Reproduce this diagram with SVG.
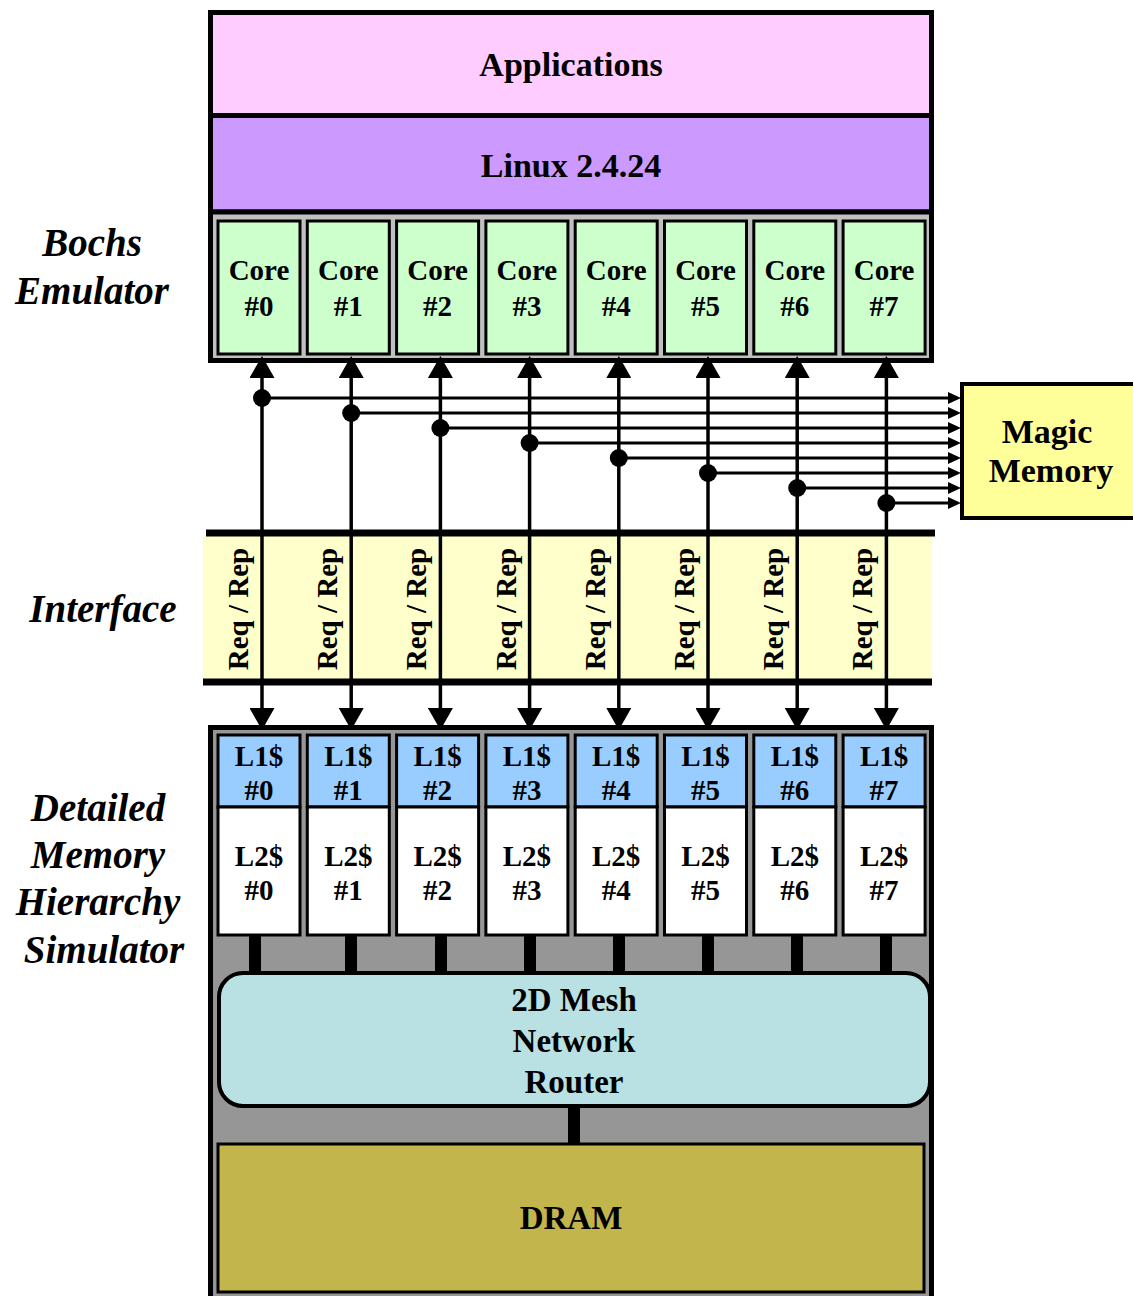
<svg xmlns="http://www.w3.org/2000/svg" width="1133" height="1296" viewBox="0 0 1133 1296">
<style>
  text { font-family: "Liberation Serif", "Times New Roman", serif; font-weight: bold; fill: #000; text-anchor: middle; }
  .lbl { font-size: 39px; font-style: italic; }
  .big { font-size: 34px; }
  .mid { font-size: 33px; }
  .cell { font-size: 29px; }
  .rr { font-size: 29px; }
  .core { fill: #ccffcc; stroke: #000; stroke-width: 3; }
  .l1 { fill: #99ccff; stroke: #000; stroke-width: 3; }
  .l2 { fill: #ffffff; stroke: #000; stroke-width: 3; }
  .vline { stroke: #000; stroke-width: 3.5; fill: none; }
  .hline { stroke: #000; stroke-width: 3; fill: none; }
  .bar { fill: #000; }
</style>
<defs>
  <marker id="bigArrow" viewBox="0 0 22 25" refX="0" refY="12.5" markerWidth="22" markerHeight="25" markerUnits="userSpaceOnUse" orient="auto-start-reverse">
    <path d="M0,0 L22,12.5 L0,25 z" fill="#000"/>
  </marker>
  <marker id="smallArrow" viewBox="0 0 13 12" refX="0" refY="6" markerWidth="13" markerHeight="12" markerUnits="userSpaceOnUse" orient="auto">
    <path d="M0,0 L13,6 L0,12 z" fill="#000"/>
  </marker>
</defs>

<rect x="0" y="0" width="1133" height="1296" fill="#ffffff"/>

<!-- Left labels -->
<g id="label-bochs">
  <text class="lbl" x="92" y="256">Bochs</text>
  <text class="lbl" x="92" y="304">Emulator</text>
</g>
<g id="label-interface">
  <text class="lbl" x="103" y="622">Interface</text>
</g>
<g id="label-simulator">
  <text class="lbl" x="98" y="821">Detailed</text>
  <text class="lbl" x="98" y="868">Memory</text>
  <text class="lbl" x="98" y="915">Hierarchy</text>
  <text class="lbl" x="104" y="963">Simulator</text>
</g>

<!-- Applications -->
<g id="applications">
  <rect x="210.5" y="12.5" width="721" height="103" fill="#ffccff" stroke="#000" stroke-width="5"/>
  <text class="big" x="571" y="76">Applications</text>
</g>
<!-- Linux -->
<g id="linux">
  <rect x="210.5" y="115.5" width="721" height="96.5" fill="#cc99ff" stroke="#000" stroke-width="5"/>
  <text class="big" x="571" y="177">Linux 2.4.24</text>
</g>
<!-- Cores container -->
<g id="cores">
  <rect x="210.5" y="212" width="721" height="148.5" fill="#c0c0c0" stroke="#000" stroke-width="5"/>
  <g id="core0"><rect class="core" x="218" y="221" width="82" height="133"/><text class="cell" x="259" y="280">Core</text><text class="cell" x="259" y="316">#0</text></g>
  <g id="core1"><rect class="core" x="307.3" y="221" width="82" height="133"/><text class="cell" x="348.3" y="280">Core</text><text class="cell" x="348.3" y="316">#1</text></g>
  <g id="core2"><rect class="core" x="396.6" y="221" width="82" height="133"/><text class="cell" x="437.6" y="280">Core</text><text class="cell" x="437.6" y="316">#2</text></g>
  <g id="core3"><rect class="core" x="485.9" y="221" width="82" height="133"/><text class="cell" x="526.9" y="280">Core</text><text class="cell" x="526.9" y="316">#3</text></g>
  <g id="core4"><rect class="core" x="575.2" y="221" width="82" height="133"/><text class="cell" x="616.2" y="280">Core</text><text class="cell" x="616.2" y="316">#4</text></g>
  <g id="core5"><rect class="core" x="664.5" y="221" width="82" height="133"/><text class="cell" x="705.5" y="280">Core</text><text class="cell" x="705.5" y="316">#5</text></g>
  <g id="core6"><rect class="core" x="753.8" y="221" width="82" height="133"/><text class="cell" x="794.8" y="280">Core</text><text class="cell" x="794.8" y="316">#6</text></g>
  <g id="core7"><rect class="core" x="843.1" y="221" width="82" height="133"/><text class="cell" x="884.1" y="280">Core</text><text class="cell" x="884.1" y="316">#7</text></g>
</g>

<!-- Magic Memory -->
<g id="magic-memory">
  <rect x="962" y="384" width="175" height="134" fill="#ffff99" stroke="#000" stroke-width="4"/>
  <text class="big" x="1047" y="443">Magic</text>
  <text class="big" x="1051" y="482">Memory</text>
</g>

<!-- Interface band -->
<g id="interface">
  <rect x="203" y="536" width="729" height="143" fill="#ffffcc"/>
  <line x1="206" y1="533" x2="935" y2="533" stroke="#000" stroke-width="7"/>
  <line x1="203" y1="682" x2="932" y2="682" stroke="#000" stroke-width="7"/>
  <text class="rr" transform="translate(248,609) rotate(-90)">Req / Rep</text>
  <text class="rr" transform="translate(337.2,609) rotate(-90)">Req / Rep</text>
  <text class="rr" transform="translate(426.4,609) rotate(-90)">Req / Rep</text>
  <text class="rr" transform="translate(515.6,609) rotate(-90)">Req / Rep</text>
  <text class="rr" transform="translate(604.8,609) rotate(-90)">Req / Rep</text>
  <text class="rr" transform="translate(694,609) rotate(-90)">Req / Rep</text>
  <text class="rr" transform="translate(783.2,609) rotate(-90)">Req / Rep</text>
  <text class="rr" transform="translate(872.4,609) rotate(-90)">Req / Rep</text>
</g>

<!-- Memory hierarchy container -->
<g id="memory-hierarchy">
  <rect x="210.5" y="727.5" width="721" height="580" fill="#969696" stroke="#000" stroke-width="5"/>
  <g id="cache0"><rect class="l1" x="218" y="735" width="82" height="72"/><rect class="l2" x="218" y="807" width="82" height="128"/><text class="cell" x="259" y="766">L1$</text><text class="cell" x="259" y="800">#0</text><text class="cell" x="259" y="866">L2$</text><text class="cell" x="259" y="900">#0</text></g>
  <g id="cache1"><rect class="l1" x="307.3" y="735" width="82" height="72"/><rect class="l2" x="307.3" y="807" width="82" height="128"/><text class="cell" x="348.3" y="766">L1$</text><text class="cell" x="348.3" y="800">#1</text><text class="cell" x="348.3" y="866">L2$</text><text class="cell" x="348.3" y="900">#1</text></g>
  <g id="cache2"><rect class="l1" x="396.6" y="735" width="82" height="72"/><rect class="l2" x="396.6" y="807" width="82" height="128"/><text class="cell" x="437.6" y="766">L1$</text><text class="cell" x="437.6" y="800">#2</text><text class="cell" x="437.6" y="866">L2$</text><text class="cell" x="437.6" y="900">#2</text></g>
  <g id="cache3"><rect class="l1" x="485.9" y="735" width="82" height="72"/><rect class="l2" x="485.9" y="807" width="82" height="128"/><text class="cell" x="526.9" y="766">L1$</text><text class="cell" x="526.9" y="800">#3</text><text class="cell" x="526.9" y="866">L2$</text><text class="cell" x="526.9" y="900">#3</text></g>
  <g id="cache4"><rect class="l1" x="575.2" y="735" width="82" height="72"/><rect class="l2" x="575.2" y="807" width="82" height="128"/><text class="cell" x="616.2" y="766">L1$</text><text class="cell" x="616.2" y="800">#4</text><text class="cell" x="616.2" y="866">L2$</text><text class="cell" x="616.2" y="900">#4</text></g>
  <g id="cache5"><rect class="l1" x="664.5" y="735" width="82" height="72"/><rect class="l2" x="664.5" y="807" width="82" height="128"/><text class="cell" x="705.5" y="766">L1$</text><text class="cell" x="705.5" y="800">#5</text><text class="cell" x="705.5" y="866">L2$</text><text class="cell" x="705.5" y="900">#5</text></g>
  <g id="cache6"><rect class="l1" x="753.8" y="735" width="82" height="72"/><rect class="l2" x="753.8" y="807" width="82" height="128"/><text class="cell" x="794.8" y="766">L1$</text><text class="cell" x="794.8" y="800">#6</text><text class="cell" x="794.8" y="866">L2$</text><text class="cell" x="794.8" y="900">#6</text></g>
  <g id="cache7"><rect class="l1" x="843.1" y="735" width="82" height="72"/><rect class="l2" x="843.1" y="807" width="82" height="128"/><text class="cell" x="884.1" y="766">L1$</text><text class="cell" x="884.1" y="800">#7</text><text class="cell" x="884.1" y="866">L2$</text><text class="cell" x="884.1" y="900">#7</text></g>
</g>

<!-- Router -->
<g id="router">
  <rect x="219" y="973" width="711" height="133" rx="24" ry="24" fill="#b9e0e3" stroke="#000" stroke-width="4"/>
  <text class="mid" x="574" y="1011">2D Mesh</text>
  <text class="mid" x="574" y="1052">Network</text>
  <text class="mid" x="574" y="1093">Router</text>
</g>

<!-- DRAM -->
<g id="dram">
  <rect x="218" y="1144" width="706" height="148" fill="#c2b54c" stroke="#000" stroke-width="3"/>
  <text class="mid" x="571" y="1229">DRAM</text>
</g>

<!-- Connectors -->
<g id="connectors">
  <!-- core <-> L1 vertical bidirectional -->
  <line class="vline" x1="262" y1="378" x2="262" y2="708" marker-start="url(#bigArrow)" marker-end="url(#bigArrow)"/>
  <line class="vline" x1="351.2" y1="378" x2="351.2" y2="708" marker-start="url(#bigArrow)" marker-end="url(#bigArrow)"/>
  <line class="vline" x1="440.4" y1="378" x2="440.4" y2="708" marker-start="url(#bigArrow)" marker-end="url(#bigArrow)"/>
  <line class="vline" x1="529.6" y1="378" x2="529.6" y2="708" marker-start="url(#bigArrow)" marker-end="url(#bigArrow)"/>
  <line class="vline" x1="618.8" y1="378" x2="618.8" y2="708" marker-start="url(#bigArrow)" marker-end="url(#bigArrow)"/>
  <line class="vline" x1="708" y1="378" x2="708" y2="708" marker-start="url(#bigArrow)" marker-end="url(#bigArrow)"/>
  <line class="vline" x1="797.2" y1="378" x2="797.2" y2="708" marker-start="url(#bigArrow)" marker-end="url(#bigArrow)"/>
  <line class="vline" x1="886.4" y1="378" x2="886.4" y2="708" marker-start="url(#bigArrow)" marker-end="url(#bigArrow)"/>
  <!-- taps to Magic Memory -->
  <line class="hline" x1="262" y1="398" x2="948" y2="398" marker-end="url(#smallArrow)"/>
  <line class="hline" x1="351.2" y1="413" x2="948" y2="413" marker-end="url(#smallArrow)"/>
  <line class="hline" x1="440.4" y1="428" x2="948" y2="428" marker-end="url(#smallArrow)"/>
  <line class="hline" x1="529.6" y1="443" x2="948" y2="443" marker-end="url(#smallArrow)"/>
  <line class="hline" x1="618.8" y1="458" x2="948" y2="458" marker-end="url(#smallArrow)"/>
  <line class="hline" x1="708" y1="473" x2="948" y2="473" marker-end="url(#smallArrow)"/>
  <line class="hline" x1="797.2" y1="488" x2="948" y2="488" marker-end="url(#smallArrow)"/>
  <line class="hline" x1="886.4" y1="503" x2="948" y2="503" marker-end="url(#smallArrow)"/>
  <circle cx="262" cy="398" r="9"/>
  <circle cx="351.2" cy="413" r="9"/>
  <circle cx="440.4" cy="428" r="9"/>
  <circle cx="529.6" cy="443" r="9"/>
  <circle cx="618.8" cy="458" r="9"/>
  <circle cx="708" cy="473" r="9"/>
  <circle cx="797.2" cy="488" r="9"/>
  <circle cx="886.4" cy="503" r="9"/>
  <!-- L2 to router bars -->
  <rect class="bar" x="249" y="935" width="12" height="38"/>
  <rect class="bar" x="345" y="935" width="12" height="38"/>
  <rect class="bar" x="435" y="935" width="12" height="38"/>
  <rect class="bar" x="524" y="935" width="12" height="38"/>
  <rect class="bar" x="613" y="935" width="12" height="38"/>
  <rect class="bar" x="702" y="935" width="12" height="38"/>
  <rect class="bar" x="791" y="935" width="12" height="38"/>
  <rect class="bar" x="880" y="935" width="12" height="38"/>
  <!-- router to DRAM -->
  <rect class="bar" x="568" y="1106" width="12" height="38"/>
</g>
</svg>
